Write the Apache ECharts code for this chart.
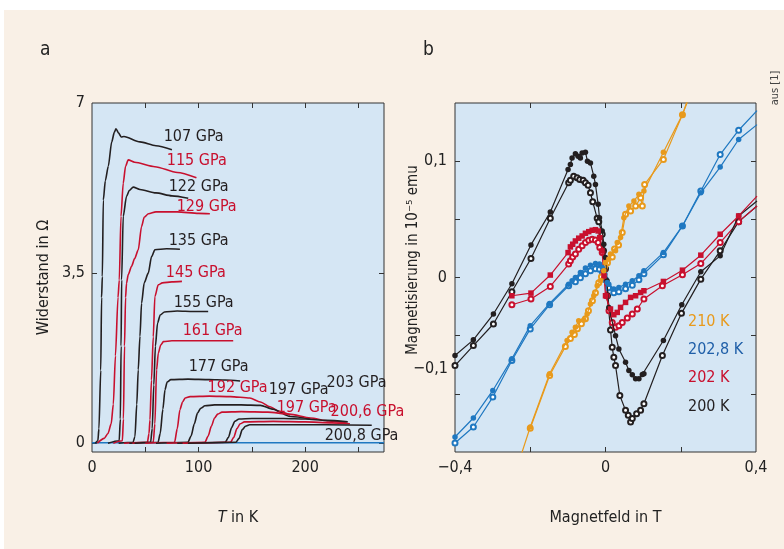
<!DOCTYPE html>
<html>
<head>
<meta charset="utf-8">
<script src="https://cdn.jsdelivr.net/npm/echarts@6/dist/echarts.min.js"></script>
<style>
  html, body { margin: 0; padding: 0; background: #fff; }
  #chart { width: 784px; height: 549px; }
</style>
</head>
<body>
<div id="chart"></div>
<script>
// a: Widerstand (Ohm) gegen T (K), one curve per pressure
const p107 = [[3,0],[5.5,0.05],[6.5,0.3],[8.2,1.5],[9,3],[9.7,3.43],[10.6,5.0],[12.5,5.4],[15.3,5.7],[18.5,6.2],[21,6.4],[22.5,6.47],[25,6.38],[27.5,6.3],[30,6.31],[45,6.2],[60,6.12],[75,6.04]]
const p115 = [[5,0],[11.5,0.1],[15,0.2],[18,0.4],[20,0.8],[22,1.8],[24.4,3.0],[25.6,3.36],[27.2,4.67],[29.3,5.35],[31.5,5.7],[34,5.83],[40,5.78],[59,5.69],[80,5.57],[98,5.46]]
const p122 = [[15,0],[25.5,0.05],[26.6,0.5],[27.3,2],[27.8,3.36],[29.3,4.67],[32.4,5.08],[35,5.2],[38.7,5.27],[45,5.22],[60,5.15],[75,5.09],[90.3,5.04]]
const p129 = [[20,0],[28.5,0.05],[29.5,0.5],[30.5,2],[31.5,3.0],[32.4,3.29],[34,3.47],[37.1,3.64],[40,3.8],[43.4,3.98],[46.5,4.46],[49,4.65],[53,4.72],[60,4.76],[80,4.76],[100,4.73],[110.6,4.72]]
const p135 = [[25,0],[38.5,0.02],[40.3,0.14],[42,0.8],[43.4,1.51],[45,2.2],[46.5,2.88],[49,3.3],[52.8,3.5],[55.9,3.84],[59,3.98],[70,4.0],[82.5,3.99]]
const p145 = [[30,0],[52,0.02],[53.5,0.2],[54.4,0.48],[55.8,1.3],[57.5,2.19],[59,3.02],[62.2,3.26],[66,3.3],[75,3.32],[84.4,3.33]]
const p155 = [[35,0],[55,0.02],[56.5,0.3],[58,1.2],[59.5,2.0],[61.5,2.47],[64,2.64],[68,2.7],[80,2.72],[95,2.71],[109,2.71]]
const p161 = [[38,0],[57.5,0.02],[59,0.4],[60.6,1.51],[62.2,1.85],[64.5,2.02],[67,2.09],[75,2.11],[100,2.11],[132.5,2.11]]
const p177 = [[40,0],[62,0.02],[64,0.2],[66.5,0.7],[68.5,1.1],[70.5,1.26],[74,1.31],[90,1.32],[110,1.31],[125,1.3],[139,1.28]]
const p192 = [[50,0],[77.5,0.02],[80,0.3],[82.5,0.69],[85,0.85],[87.5,0.93],[92,0.96],[110,0.97],[130,0.96],[148,0.93],[158,0.85],[167,0.75],[176,0.65],[186,0.58]]
const p197b = [[60,0],[90,0.02],[93,0.15],[96,0.4],[99,0.62],[102,0.72],[106,0.77],[115,0.79],[140,0.79],[158,0.78],[170,0.7],[186,0.55],[205,0.5]]
const p197r = [[70,0],[106,0.02],[109,0.15],[112,0.35],[115,0.52],[118,0.6],[122,0.64],[140,0.65],[165,0.64],[185,0.6],[205,0.52],[222,0.46],[239,0.41]]
const p203 = [[80,0],[125,0.02],[128,0.12],[131,0.32],[134,0.45],[138,0.5],[150,0.51],[180,0.51],[200,0.5],[220,0.47],[240,0.44]]
const p2006 = [[85,0],[130,0.02],[133,0.12],[136,0.3],[139,0.4],[143,0.44],[170,0.45],[200,0.44],[225,0.42],[242,0.4]]
const p2008 = [[90,0],[135,0.02],[138,0.1],[141,0.28],[144,0.35],[148,0.38],[180,0.38],[220,0.38],[262.5,0.37]]
const baseline = [[0,0.01],[274,0.01]]

// curve labels: [T, R, text]
const blackLabels = [[66.8,6.31,'107 GPa'],[71.5,5.28,'122 GPa'],[71.5,4.17,'135 GPa'],[76.2,2.89,'155 GPa'],[90.2,1.57,'177 GPa'],[165.3,1.1,'197 GPa'],[219.6,1.24,'203 GPa'],[217.9,0.15,'200,8 GPa']]
const redLabels = [[69.7,5.81,'115 GPa'],[79,4.87,'129 GPa'],[68.8,3.51,'145 GPa'],[84.6,2.31,'161 GPa'],[108,1.14,'192 GPa'],[172.8,0.73,'197 GPa'],[223.4,0.64,'200,6 GPa']]

// b: Magnetisierung (1e-5 emu) gegen Magnetfeld (T)
const k200Filled = [[-0.4,-0.0671],[-0.3512,-0.0536],[-0.2979,-0.0314],[-0.2488,-0.0054],[-0.1981,0.028],[-0.1467,0.0563],[-0.0995,0.0929],[-0.0933,0.0972],[-0.0888,0.1028],[-0.08,0.1063],[-0.0728,0.1043],[-0.0667,0.1028],[-0.0621,0.1071],[-0.0533,0.1077],[-0.048,0.1],[-0.04,0.0985],[-0.0312,0.0871],[-0.0267,0.08],[-0.0195,0.0629],[-0.016,0.0514],[-0.0088,0.04],[-0.0045,0.0286],[0,0.0171],[0.004,-0.0028],[0.0088,-0.0257],[0.0267,-0.05],[0.0355,-0.0614],[0.0533,-0.0728],[0.0621,-0.08],[0.0712,-0.0836],[0.08,-0.0871],[0.0888,-0.0871],[0.0979,-0.0834],[0.1021,-0.0828],[0.1539,-0.0542],[0.2027,-0.0234],[0.2533,0.0049],[0.3048,0.0186],[0.3539,0.0529],[0.4027,0.0657]]
const k200Open = [[-0.4,-0.0757],[-0.3512,-0.0585],[-0.2979,-0.04],[-0.2488,-0.0123],[-0.1981,0.0163],[-0.1467,0.0509],[-0.0979,0.0814],[-0.0933,0.0835],[-0.0845,0.0871],[-0.0755,0.0857],[-0.0685,0.0843],[-0.0595,0.0835],[-0.0533,0.0814],[-0.0461,0.0792],[-0.04,0.0728],[-0.0339,0.0651],[-0.0221,0.0509],[-0.0179,0.048],[-0.0088,0.0372],[-0.0053,0.0229],[0,0.0075],[0.0053,-0.0157],[0.0133,-0.0451],[0.0179,-0.06],[0.0221,-0.0686],[0.0267,-0.0757],[0.0381,-0.1014],[0.0533,-0.1142],[0.0605,-0.1185],[0.0667,-0.1242],[0.0712,-0.1213],[0.0827,-0.1171],[0.0933,-0.1142],[0.1021,-0.1085],[0.1512,-0.0671],[0.2019,-0.0308],[0.2533,-0.0014],[0.3048,0.0229],[0.3539,0.048],[0.4027,0.0614]]
const k202Filled = [[-0.2488,-0.0157],[-0.1981,-0.0134],[-0.1467,0.0021],[-0.0995,0.0214],[-0.0933,0.0263],[-0.0872,0.0286],[-0.08,0.0314],[-0.0712,0.0338],[-0.0621,0.0357],[-0.0533,0.038],[-0.0445,0.0394],[-0.0355,0.0406],[-0.0267,0.0411],[-0.0195,0.04],[-0.0152,0.0343],[-0.0093,0.0229],[-0.004,0.0015],[0,-0.0157],[0.0133,-0.0271],[0.0221,-0.032],[0.0312,-0.03],[0.04,-0.0257],[0.0533,-0.0214],[0.0667,-0.0171],[0.08,-0.0157],[0.0933,-0.0129],[0.1021,-0.0114],[0.1539,-0.0034],[0.2045,0.0063],[0.2533,0.0192],[0.3048,0.0372],[0.3539,0.0529],[0.4027,0.07]]
const k202Open = [[-0.2488,-0.0234],[-0.1981,-0.0185],[-0.1467,-0.0077],[-0.0979,0.0115],[-0.0933,0.0143],[-0.0872,0.0177],[-0.08,0.0201],[-0.0712,0.0243],[-0.0621,0.0272],[-0.0533,0.03],[-0.0445,0.032],[-0.0355,0.0329],[-0.0267,0.0323],[-0.0195,0.03],[-0.0152,0.0257],[-0.0088,0.0214],[-0.004,0.0057],[0.0027,-0.0157],[0.0093,-0.0285],[0.0179,-0.0386],[0.0267,-0.0428],[0.0355,-0.0414],[0.0445,-0.0386],[0.0579,-0.0348],[0.0712,-0.0314],[0.0845,-0.0271],[0.1021,-0.0185],[0.1512,-0.0071],[0.2045,0.0023],[0.2533,0.012],[0.3048,0.03],[0.3539,0.048],[0.4027,0.0614]]
const k2028Filled = [[-0.4,-0.1371],[-0.3512,-0.1208],[-0.2995,-0.0971],[-0.2488,-0.0699],[-0.2,-0.0414],[-0.1485,-0.0223],[-0.0979,-0.0057],[-0.0888,-0.0028],[-0.08,0],[-0.0667,0.0043],[-0.0533,0.0081],[-0.04,0.0106],[-0.0267,0.012],[-0.016,0.0115],[-0.0088,0.0086],[-0.0019,0.0029],[0.0045,-0.0043],[0.0088,-0.0057],[0.0221,-0.0099],[0.0355,-0.0086],[0.0533,-0.0057],[0.0712,-0.0028],[0.0888,0.0015],[0.1021,0.0057],[0.1539,0.0214],[0.2045,0.0443],[0.2533,0.0728],[0.3048,0.0949],[0.3539,0.1186],[0.4027,0.1314]]
const k2028Open = [[-0.4,-0.1422],[-0.3512,-0.1285],[-0.2995,-0.1028],[-0.2488,-0.0714],[-0.2,-0.0442],[-0.1485,-0.0234],[-0.0979,-0.0071],[-0.08,-0.0037],[-0.0667,-0.0003],[-0.0533,0.0032],[-0.04,0.0057],[-0.0267,0.0075],[-0.016,0.007],[-0.008,0.004],[0,-0.002],[0.008,-0.0088],[0.0221,-0.0131],[0.0355,-0.0123],[0.0533,-0.0097],[0.0712,-0.0067],[0.0888,-0.002],[0.1021,0.0032],[0.1539,0.0195],[0.2045,0.0443],[0.2533,0.0743],[0.3048,0.1057],[0.3539,0.1266],[0.4027,0.1434]]
const k210Filled = [[-0.2267,-0.155],[-0.2,-0.1285],[-0.1485,-0.0828],[-0.1021,-0.0542],[-0.0888,-0.0471],[-0.08,-0.0428],[-0.0712,-0.0371],[-0.0579,-0.0365],[-0.0488,-0.0314],[-0.04,-0.0228],[-0.0312,-0.0157],[-0.0221,-0.0071],[-0.0133,-0.0028],[-0.0045,0.0057],[0,0.0129],[0.0088,0.0158],[0.0133,0.0201],[0.0267,0.0229],[0.0312,0.03],[0.04,0.0343],[0.0488,0.0514],[0.0621,0.0614],[0.0755,0.0657],[0.0888,0.0715],[0.1021,0.0743],[0.1539,0.1077],[0.2045,0.14],[0.2213,0.1557]]
const k210Open = [[-0.2,-0.1296],[-0.1485,-0.0842],[-0.1067,-0.0594],[-0.0933,-0.0525],[-0.0827,-0.0491],[-0.0747,-0.044],[-0.064,-0.0397],[-0.0533,-0.0354],[-0.0453,-0.0286],[-0.0347,-0.02],[-0.0267,-0.0131],[-0.0179,-0.0045],[-0.0107,0.0006],[-0.0027,0.0092],[0.0053,0.0126],[0.0179,0.0177],[0.024,0.0246],[0.0347,0.028],[0.0445,0.0386],[0.0533,0.0543],[0.0667,0.0572],[0.08,0.0614],[0.0933,0.0686],[0.0979,0.0614],[0.104,0.08],[0.1539,0.1015],[0.2045,0.14],[0.2267,0.1583]]

const legendB = ['210 K', '202,8 K', '202 K', '200 K']

const FONT = "'Liberation Sans Narrow', 'DejaVu Sans Condensed', 'Noto Sans', sans-serif"
const BLACK = '#231f20'
const RED = '#c8102e'
const BLUE = '#1f78c1'
const ORANGE = '#e89a1c'
const AXIS = '#333'

const fmt = v => String(Math.round(v * 1000) / 1000).replace('.', ',').replace('-', '\u2212')

function resLine (data, color) {
  return {
    type: 'line', xAxisIndex: 0, yAxisIndex: 0, data: data,
    showSymbol: false, smooth: 0.25, smoothMonotone: 'x',
    lineStyle: { color: color, width: 1.6 }, itemStyle: { color: color },
    silent: true, z: 3
  }
}

// scatter defaults to opacity 0.8 and the label inherits it, so force 1
function labelSeries (items, color) {
  return {
    type: 'scatter', xAxisIndex: 0, yAxisIndex: 0,
    data: items.map(d => ({ value: [d[0], d[1]], name: d[2] })),
    symbolSize: 1, itemStyle: { color: 'rgba(0,0,0,0)', opacity: 1 }, silent: true, z: 5,
    labelLayout: { hideOverlap: false },
    label: {
      show: true, position: 'right', distance: 0, opacity: 1,
      formatter: p => p.name, color: color,
      fontFamily: FONT, fontSize: 16
    }
  }
}

function magLine (data, color, open, symbol) {
  return {
    type: 'line', xAxisIndex: 2, yAxisIndex: 2, data: data,
    symbol: open ? 'emptyCircle' : (symbol || 'circle'),
    symbolSize: open ? 5 : 5.5,
    lineStyle: { color: color, width: 1.2 },
    itemStyle: { color: color, borderColor: color, borderWidth: open ? 1.1 : 0 },
    silent: true, z: open ? 3 : 4
  }
}

const noLine = { show: false, onZero: false }
const tickStyle = { inside: true, length: 5, lineStyle: { color: AXIS, width: 1 } }
const lblStyle = { fontFamily: FONT, fontSize: 16, color: '#222' }

const chart = echarts.init(document.getElementById('chart'), null, { renderer: 'canvas' })
chart.setOption({
  animation: false,
  backgroundColor: '#fff',
  graphic: [
    { type: 'rect', shape: { x: 4, y: 10, width: 780, height: 539 }, style: { fill: '#f9f0e6' }, z: -10 },
    { type: 'text', x: 40, y: 50, style: { text: 'a', font: '19px ' + FONT, fill: '#222', textVerticalAlign: 'middle' } },
    { type: 'text', x: 423, y: 50, style: { text: 'b', font: '19px ' + FONT, fill: '#222', textVerticalAlign: 'middle' } },
    { type: 'text', x: 775, y: 88, rotation: Math.PI / 2, style: { text: 'aus [1]', font: '11px ' + FONT, fill: '#444', textAlign: 'center', textVerticalAlign: 'middle' } },
    { type: 'text', x: 413, y: 260, rotation: Math.PI / 2, style: { text: 'Magnetisierung in 10\u207B\u2075 emu', font: '15px ' + FONT, fill: '#222', textAlign: 'center', textVerticalAlign: 'middle' } },
    { type: 'text', x: 448, y: 369, style: { text: '\u22120,1', font: '16px ' + FONT, fill: '#222', textAlign: 'right', textVerticalAlign: 'middle' } },
    { type: 'text', x: 688, y: 322, style: { text: legendB[0], font: '16px ' + FONT, fill: ORANGE, textVerticalAlign: 'middle' } },
    { type: 'text', x: 688, y: 350, style: { text: legendB[1], font: '16px ' + FONT, fill: '#1f5fa8', textVerticalAlign: 'middle' } },
    { type: 'text', x: 688, y: 378, style: { text: legendB[2], font: '16px ' + FONT, fill: RED, textVerticalAlign: 'middle' } },
    { type: 'text', x: 688, y: 407, style: { text: legendB[3], font: '16px ' + FONT, fill: BLACK, textVerticalAlign: 'middle' } }
  ],
  grid: [
    { left: 92, top: 103, width: 292, height: 349, show: true, backgroundColor: '#d5e6f4', borderColor: AXIS, borderWidth: 1 },
    { left: 455, top: 103, width: 301, height: 349, show: true, backgroundColor: '#d5e6f4', borderColor: AXIS, borderWidth: 1 }
  ],
  xAxis: [
    {
      type: 'value', gridIndex: 0, min: 0, max: 274,
      name: '{i|T} in K', nameLocation: 'middle', nameGap: 58,
      nameTextStyle: { fontFamily: FONT, fontSize: 16, color: '#222', rich: { i: { fontStyle: 'italic', fontFamily: FONT, fontSize: 16, color: '#222' } } },
      axisLine: noLine, splitLine: { show: false },
      axisTick: Object.assign({ customValues: [50, 100, 150, 200, 250] }, tickStyle),
      axisLabel: Object.assign({ customValues: [0, 100, 200], margin: 8, formatter: fmt }, lblStyle)
    },
    {
      type: 'value', gridIndex: 0, min: 0, max: 274, position: 'top',
      axisLine: noLine, splitLine: { show: false }, axisLabel: { show: false },
      axisTick: Object.assign({ customValues: [50, 100, 150, 200, 250] }, tickStyle)
    },
    {
      type: 'value', gridIndex: 1, min: -0.4, max: 0.4,
      name: 'Magnetfeld in T', nameLocation: 'middle', nameGap: 58,
      nameTextStyle: { fontFamily: FONT, fontSize: 16, color: '#222' },
      axisLine: noLine, splitLine: { show: false },
      axisTick: Object.assign({ customValues: [-0.2, 0, 0.2] }, tickStyle),
      axisLabel: Object.assign({ customValues: [-0.4, 0, 0.4], margin: 8, formatter: fmt }, lblStyle)
    },
    {
      type: 'value', gridIndex: 1, min: -0.4, max: 0.4, position: 'top',
      axisLine: noLine, splitLine: { show: false }, axisLabel: { show: false },
      axisTick: Object.assign({ customValues: [-0.2, 0, 0.2] }, tickStyle)
    }
  ],
  yAxis: [
    {
      type: 'value', gridIndex: 0, min: -0.18, max: 7,
      name: 'Widerstand in \u03A9', nameLocation: 'middle', nameGap: 40,
      nameTextStyle: { fontFamily: FONT, fontSize: 16, color: '#222' },
      axisLine: noLine, splitLine: { show: false },
      axisTick: Object.assign({ customValues: [0, 3.5] }, tickStyle),
      axisLabel: Object.assign({ customValues: [0, 3.5, 7], margin: 7, formatter: fmt }, lblStyle)
    },
    {
      type: 'value', gridIndex: 0, min: -0.18, max: 7, position: 'right',
      axisLine: noLine, splitLine: { show: false }, axisLabel: { show: false },
      axisTick: Object.assign({ customValues: [0, 3.5] }, tickStyle)
    },
    {
      type: 'value', gridIndex: 1, min: -0.15, max: 0.15,
      axisLine: noLine, splitLine: { show: false },
      axisTick: Object.assign({ customValues: [-0.1, -0.05, 0, 0.05, 0.1] }, tickStyle),
      axisLabel: Object.assign({ customValues: [0, 0.1], margin: 8, formatter: fmt }, lblStyle)
    },
    {
      type: 'value', gridIndex: 1, min: -0.15, max: 0.15, position: 'right',
      axisLine: noLine, splitLine: { show: false }, axisLabel: { show: false },
      axisTick: Object.assign({ customValues: [-0.1, -0.05, 0, 0.05, 0.1] }, tickStyle)
    }
  ],
  series: [
    resLine(baseline, BLUE),
    resLine(p107, BLACK), resLine(p115, RED), resLine(p122, BLACK), resLine(p129, RED),
    resLine(p135, BLACK), resLine(p145, RED), resLine(p155, BLACK), resLine(p161, RED),
    resLine(p177, BLACK), resLine(p192, RED), resLine(p197b, BLACK), resLine(p197r, RED),
    resLine(p203, BLACK), resLine(p2006, RED), resLine(p2008, BLACK),
    labelSeries(blackLabels, BLACK), labelSeries(redLabels, RED),
    magLine(k200Open, BLACK, true), magLine(k200Filled, BLACK, false),
    magLine(k2028Open, BLUE, true), magLine(k2028Filled, BLUE, false),
    magLine(k202Open, RED, true), magLine(k202Filled, RED, false, 'rect'),
    magLine(k210Open, ORANGE, true), magLine(k210Filled, ORANGE, false)
  ]
})
</script>
</body>
</html>
